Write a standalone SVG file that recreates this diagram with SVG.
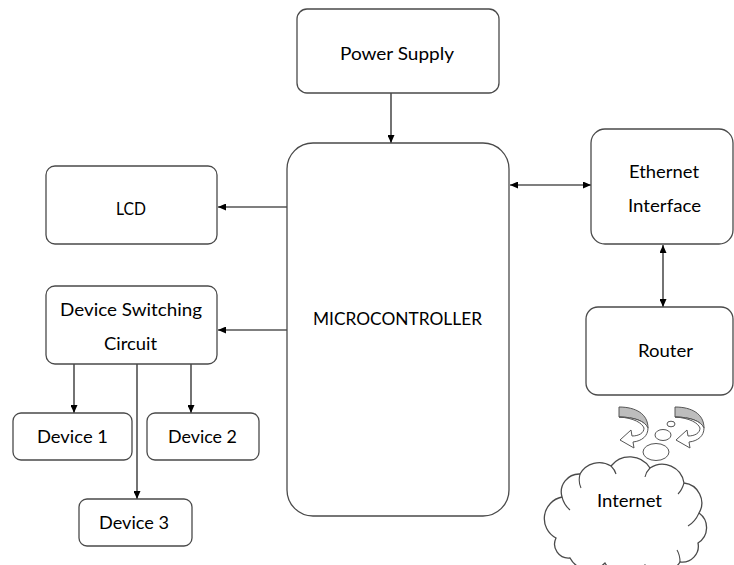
<svg xmlns="http://www.w3.org/2000/svg" width="734" height="565" viewBox="0 0 734 565">
<defs>
<style>
.box{fill:#fff;stroke:#4a4a4a;stroke-width:1.3}
.lbl{font-family:Lato,"Open Sans","Liberation Sans",sans-serif;font-size:18px;fill:#000;text-anchor:middle}
.con{fill:none;stroke:#000;stroke-width:1.1}
.sh{stroke:#555;stroke-width:1}
</style>
<marker id="ah" viewBox="0 0 8 7" refX="8" refY="3.5" markerWidth="8" markerHeight="7" markerUnits="userSpaceOnUse" orient="auto-start-reverse">
<path d="M0,0 L8,3.5 L0,7 z" fill="#000"/>
</marker>
</defs>
<rect width="734" height="565" fill="#fff"/>

<g id="connectors">
<line class="con" x1="391" y1="93" x2="391" y2="143" marker-end="url(#ah)"/>
<line class="con" x1="287" y1="207" x2="218" y2="207" marker-end="url(#ah)"/>
<line class="con" x1="287" y1="330" x2="218" y2="330" marker-end="url(#ah)"/>
<line class="con" x1="510" y1="185" x2="591" y2="185" marker-start="url(#ah)" marker-end="url(#ah)"/>
<line class="con" x1="663" y1="245" x2="663" y2="307" marker-start="url(#ah)" marker-end="url(#ah)"/>
<line class="con" x1="74" y1="364" x2="74" y2="413" marker-end="url(#ah)"/>
<line class="con" x1="191" y1="364" x2="191" y2="413" marker-end="url(#ah)"/>
<line class="con" x1="137" y1="364" x2="137" y2="499" marker-end="url(#ah)"/>
</g>

<g id="power-supply">
<rect class="box" x="297" y="9" width="202" height="84" rx="10"/>
<text class="lbl" x="397" y="60" textLength="114" lengthAdjust="spacingAndGlyphs">Power Supply</text>
</g>

<g id="microcontroller">
<rect class="box" x="287" y="143" width="222" height="373" rx="26"/>
<text class="lbl" x="397.5" y="325" textLength="169" lengthAdjust="spacingAndGlyphs">MICROCONTROLLER</text>
</g>

<g id="lcd">
<rect class="box" x="46" y="166" width="171" height="78" rx="9"/>
<text class="lbl" x="131" y="215" textLength="30" lengthAdjust="spacingAndGlyphs">LCD</text>
</g>

<g id="device-switching">
<rect class="box" x="46" y="286" width="171" height="78" rx="9"/>
<text class="lbl" x="131" y="316" textLength="142" lengthAdjust="spacingAndGlyphs">Device Switching</text>
<text class="lbl" x="130.5" y="350" textLength="53" lengthAdjust="spacingAndGlyphs">Circuit</text>
</g>

<g id="device-1">
<rect class="box" x="13" y="413" width="119" height="47" rx="8"/>
<text class="lbl" x="72.5" y="443" textLength="71" lengthAdjust="spacingAndGlyphs">Device 1</text>
</g>

<g id="device-2">
<rect class="box" x="147" y="413" width="112" height="47" rx="8"/>
<text class="lbl" x="202.5" y="443" textLength="69" lengthAdjust="spacingAndGlyphs">Device 2</text>
</g>

<g id="device-3">
<rect class="box" x="79" y="499" width="113" height="47" rx="8"/>
<text class="lbl" x="134" y="529" textLength="70" lengthAdjust="spacingAndGlyphs">Device 3</text>
</g>

<g id="ethernet">
<rect class="box" x="591" y="129" width="142" height="115" rx="14"/>
<text class="lbl" x="664" y="178" textLength="70" lengthAdjust="spacingAndGlyphs">Ethernet</text>
<text class="lbl" x="664.5" y="212" textLength="73" lengthAdjust="spacingAndGlyphs">Interface</text>
</g>

<g id="router">
<rect class="box" x="586" y="307" width="147" height="88" rx="12"/>
<text class="lbl" x="665.5" y="357" textLength="55" lengthAdjust="spacingAndGlyphs">Router</text>
</g>

<g id="internet-link">
<g id="curved-arrow-left">
<path class="sh" fill="#bdbdbd" d="M619,407 C636,407 648,414 648,428 C645,421 634,417 619,417 Z"/>
<path class="sh" fill="#fff" d="M648,428 C648,436 642,441 633,442 L634,448 L620,440 L631,430 L632,436 C639,436 644,433 644,428 C642,423 634,418 619,417 C634,417 645,421 648,428 Z"/>
</g>
<g id="curved-arrow-right" transform="translate(56,0)">
<path class="sh" fill="#bdbdbd" d="M619,407 C636,407 648,414 648,428 C645,421 634,417 619,417 Z"/>
<path class="sh" fill="#fff" d="M648,428 C648,436 642,441 633,442 L634,448 L620,440 L631,430 L632,436 C639,436 644,433 644,428 C642,423 634,418 619,417 C634,417 645,421 648,428 Z"/>
</g>
<ellipse class="sh" fill="#fff" cx="671" cy="424" rx="4" ry="2.8"/>
<ellipse class="sh" fill="#fff" cx="663" cy="435" rx="8" ry="5.5"/>
<ellipse class="sh" fill="#fff" cx="656" cy="452" rx="13" ry="8.5"/>
</g>

<g id="internet">
<path fill="#fff" stroke="#4a4a4a" stroke-width="1.3" d="M556,538 A22 22 0 0 1 562,497 A18 18 0 0 1 580,474 A22 22 0 0 1 611,466 A24 24 0 0 1 650,468 A22 22 0 0 1 684,483 A20 20 0 0 1 699,513 A18 18 0 0 1 698,543 A16 16 0 0 1 680,562 A22 22 0 0 1 645,565 A24 24 0 0 1 605,563 A22 22 0 0 1 570,558 A14 14 0 0 1 556,538 Z"/>
<path fill="none" stroke="#4a4a4a" stroke-width="1.1" d="M562,497 Q564,505 570,510 M580,474 Q578,482 581,488 M611,466 Q615,470 616,474 M650,468 Q646,472 645,477 M684,483 Q682,490 678,494 M699,513 Q695,522 688,526 M680,562 Q680,555 677,550"/>
<text class="lbl" x="629.5" y="507" textLength="65" lengthAdjust="spacingAndGlyphs">Internet</text>
</g>
</svg>
